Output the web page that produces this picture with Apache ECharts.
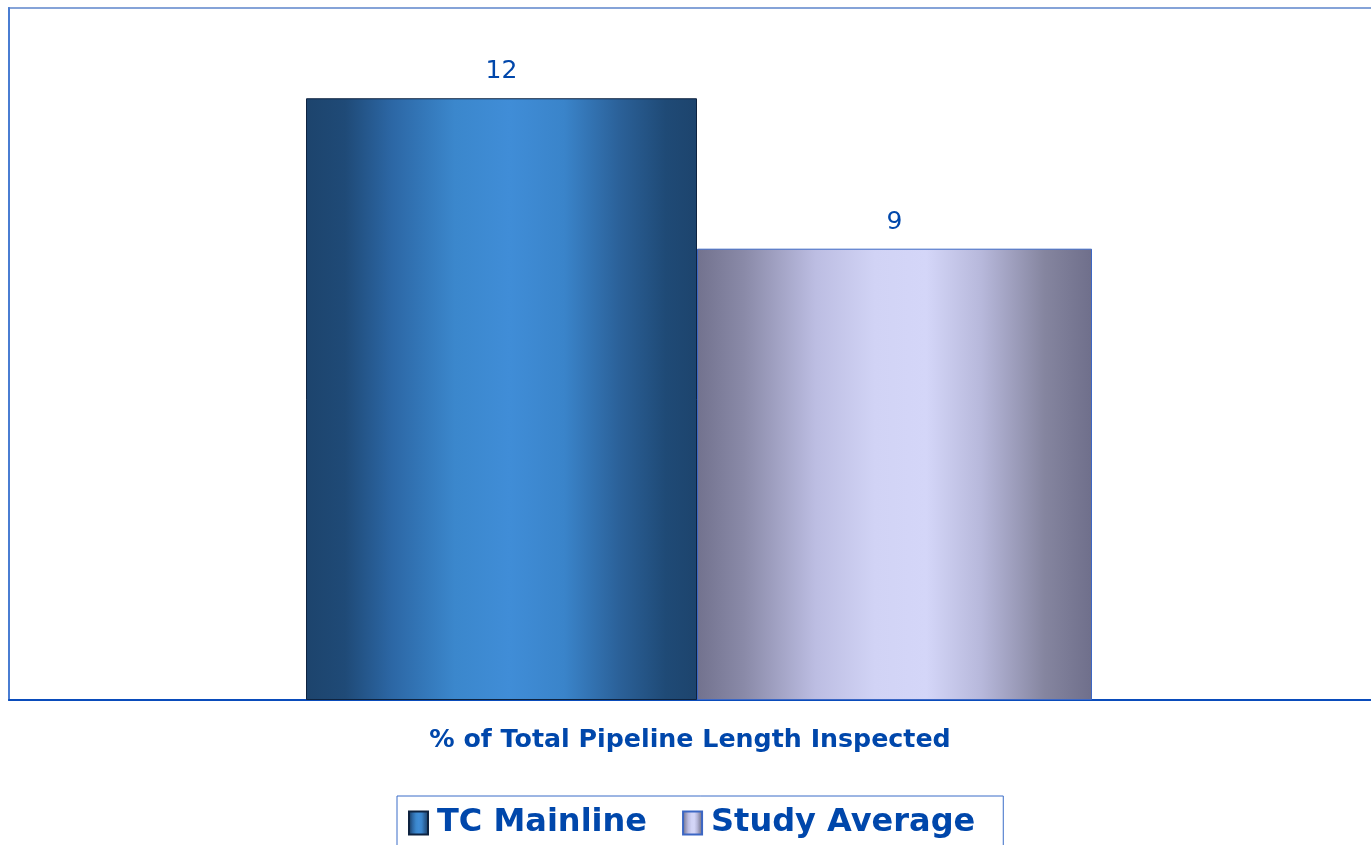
<!DOCTYPE html>
<html>
<head>
<meta charset="utf-8">
<style>html,body{margin:0;padding:0;background:#fff;}#c{width:1371px;height:845px;}</style>
<script src="https://cdn.jsdelivr.net/npm/echarts@6/dist/echarts.min.js"></script>
</head>
<body>
<div id="c"></div>
<script>
const categories = ['% of Total Pipeline Length Inspected'];
const seriesNames = ['TC Mainline', 'Study Average'];
const tcMainline = [12];
const studyAverage = [9];

const blueGrad = {type:'linear',x:0,y:0,x2:1,y2:0,colorStops:[
  {offset:0,color:'#1d446d'},{offset:0.1,color:'#1f4a77'},{offset:0.22,color:'#2c67a5'},
  {offset:0.38,color:'#3b87cc'},{offset:0.52,color:'#408dd7'},{offset:0.66,color:'#3a84ca'},
  {offset:0.8,color:'#2b6199'},{offset:0.92,color:'#1f4a76'},{offset:1,color:'#1d446d'}]};
const lilacGrad = {type:'linear',x:0,y:0,x2:1,y2:0,colorStops:[
  {offset:0,color:'#72728e'},{offset:0.12,color:'#8a8aa8'},{offset:0.3,color:'#bcbde2'},
  {offset:0.45,color:'#d1d3f5'},{offset:0.58,color:'#d4d6f8'},{offset:0.72,color:'#b7b8db'},
  {offset:0.88,color:'#85859f'},{offset:1,color:'#6f6f8b'}]};

const chart = echarts.init(document.getElementById('c'));
chart.setOption({
  animation:false,
  backgroundColor:'#fff',
  grid:{left:9,top:8,right:-18,bottom:145,outerBoundsMode:'none',containLabel:false,show:true,borderColor:'#85a3d8',borderWidth:2,backgroundColor:'transparent'},
  xAxis:{type:'category',data:categories,
    axisLine:{show:true,lineStyle:{color:'#0a4cbb',width:2}},
    axisTick:{show:false},
    axisLabel:{margin:28,color:'#0047ab',fontFamily:'DejaVu Sans',fontWeight:'bold',fontSize:25.3,
      padding:[0,18,0,0],formatter:v=>v, align:'center'}},
  yAxis:{type:'value',min:0,max:13.8,
    axisLine:{show:true,lineStyle:{color:'#4a7dd2',width:2}},
    axisTick:{show:false},axisLabel:{show:false},splitLine:{show:false}},
  legend:{left:397,top:796,width:607,height:60,
    data:seriesNames,
    borderColor:'#3a6cc8',borderWidth:1,padding:[11,28,20,11],
    itemWidth:19,itemHeight:23,itemGap:35,icon:'rect',
    textStyle:{color:'#0047ab',fontFamily:'DejaVu Sans',fontWeight:'bold',fontSize:32,padding:[0,0,0,4]}},
  series:[
    {name:seriesNames[0],type:'bar',data:tcMainline,barWidth:391,barGap:'0%',
     itemStyle:{color:blueGrad,borderColor:'#0e2340',borderWidth:1},
     label:{show:true,position:'top',distance:14,color:'#0047ab',fontFamily:'DejaVu Sans',fontSize:25}},
    {name:seriesNames[1],type:'bar',data:studyAverage,barWidth:395,barGap:'0%',
     itemStyle:{color:lilacGrad,borderColor:'#3c67c4',borderWidth:1},
     label:{show:true,position:'top',distance:14,color:'#0047ab',fontFamily:'DejaVu Sans',fontSize:25}}
  ]
});
</script>
</body>
</html>
